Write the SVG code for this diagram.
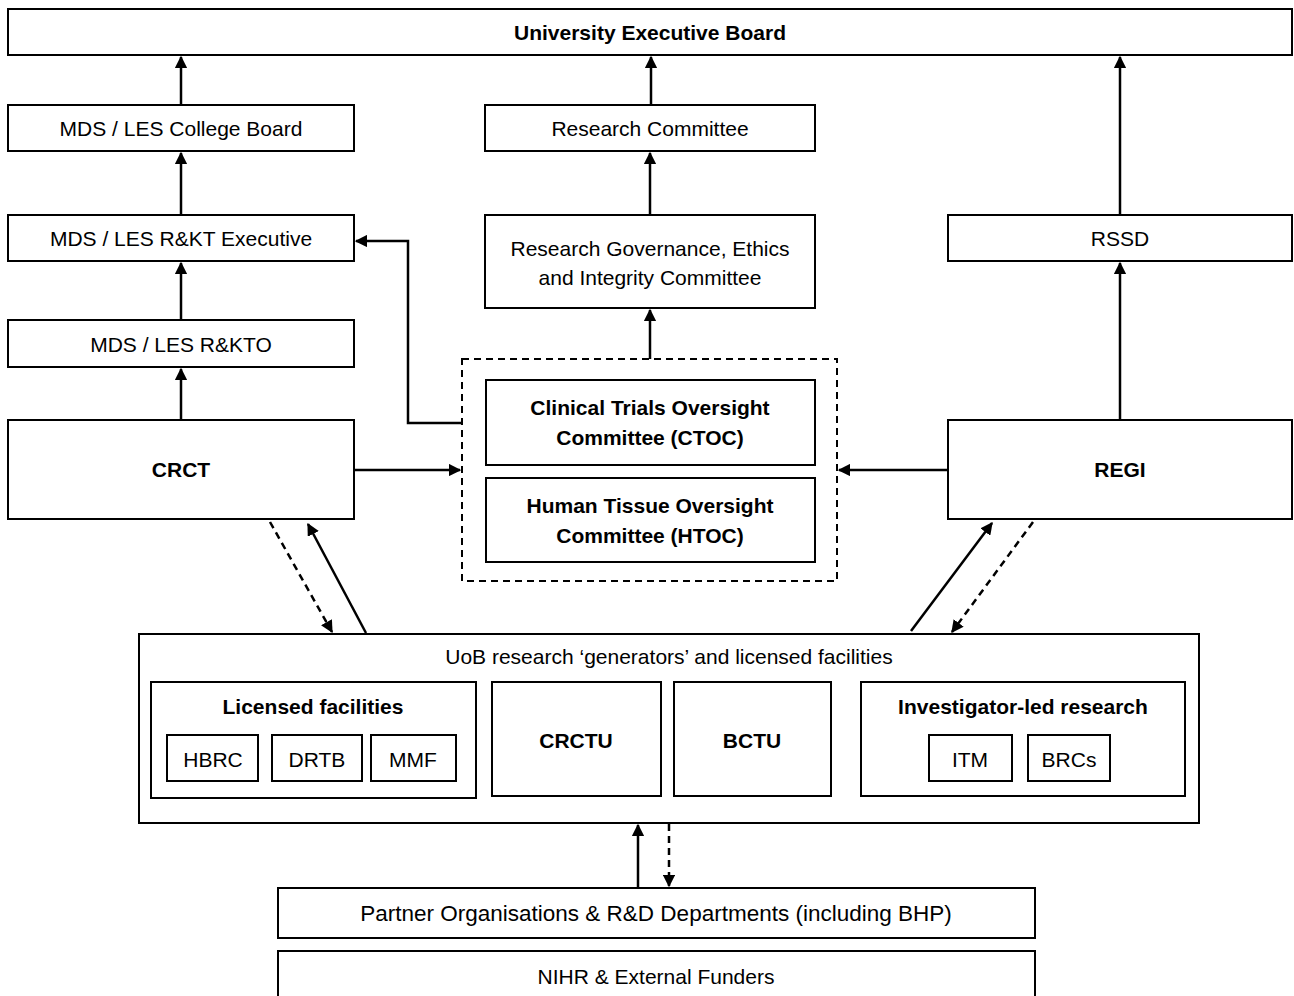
<svg xmlns="http://www.w3.org/2000/svg" width="1294" height="996" viewBox="0 0 1294 996">
<style>
.box{fill:#fff;stroke:#000;stroke-width:2}
.t{font-family:"Liberation Sans",Arial,sans-serif;font-size:21px;fill:#000;text-anchor:middle}
.b{font-weight:bold}
.c{fill:none;stroke:#000;stroke-width:2.5}
.d{stroke-dasharray:7 5}
</style>
<defs>
<marker id="ah" viewBox="0 0 10 10" refX="9" refY="5" markerWidth="5" markerHeight="5" markerUnits="strokeWidth" orient="auto">
<path d="M0,0 L10,5 L0,10 z" fill="#000"/>
</marker>
</defs>
<rect width="1294" height="996" fill="#fff"/>
<g id="ueb"><rect class="box" x="8" y="9" width="1284" height="46"/><text class="t b" x="650" y="40">University Executive Board</text></g>
<g id="collegeboard"><rect class="box" x="8" y="105" width="346" height="46"/><text class="t" x="181" y="136">MDS / LES College Board</text></g>
<g id="researchcommittee"><rect class="box" x="485" y="105" width="330" height="46"/><text class="t" x="650" y="136">Research Committee</text></g>
<g id="rktexec"><rect class="box" x="8" y="215" width="346" height="46"/><text class="t" x="181" y="246">MDS / LES R&amp;KT Executive</text></g>
<g id="rgeic"><rect class="box" x="485" y="215" width="330" height="93"/><text class="t" x="650" y="256">Research Governance, Ethics</text><text class="t" x="650" y="285">and Integrity Committee</text></g>
<g id="rssd"><rect class="box" x="948" y="215" width="344" height="46"/><text class="t" x="1120" y="246">RSSD</text></g>
<g id="rkto"><rect class="box" x="8" y="320" width="346" height="47"/><text class="t" x="181" y="352">MDS / LES R&amp;KTO</text></g>
<g id="crct"><rect class="box" x="8" y="420" width="346" height="99"/><text class="t b" x="181" y="477">CRCT</text></g>
<g id="regi"><rect class="box" x="948" y="420" width="344" height="99"/><text class="t b" x="1120" y="477">REGI</text></g>
<g id="oversight">
<rect x="462" y="359" width="375" height="222" fill="none" stroke="#000" stroke-width="2" stroke-dasharray="7 5"/>
<g id="ctoc"><rect class="box" x="486" y="380" width="329" height="85"/><text class="t b" x="650" y="415">Clinical Trials Oversight</text><text class="t b" x="650" y="445">Committee (CTOC)</text></g>
<g id="htoc"><rect class="box" x="486" y="478" width="329" height="84"/><text class="t b" x="650" y="513">Human Tissue Oversight</text><text class="t b" x="650" y="543">Committee (HTOC)</text></g>
</g>
<g id="uob">
<rect class="box" x="139" y="634" width="1060" height="189"/>
<text class="t" x="669" y="664">UoB research ‘generators’ and licensed facilities</text>
<g id="licensed"><rect class="box" x="151" y="682" width="325" height="116"/><text class="t b" x="313" y="714">Licensed facilities</text>
<g id="hbrc"><rect class="box" x="167" y="735" width="91" height="46"/><text class="t" x="213" y="767">HBRC</text></g>
<g id="drtb"><rect class="box" x="272" y="735" width="90" height="46"/><text class="t" x="317" y="767">DRTB</text></g>
<g id="mmf"><rect class="box" x="371" y="735" width="85" height="46"/><text class="t" x="413" y="767">MMF</text></g>
</g>
<g id="crctu"><rect class="box" x="492" y="682" width="169" height="114"/><text class="t b" x="576" y="748">CRCTU</text></g>
<g id="bctu"><rect class="box" x="674" y="682" width="157" height="114"/><text class="t b" x="752" y="748">BCTU</text></g>
<g id="investigator"><rect class="box" x="861" y="682" width="324" height="114"/><text class="t b" x="1023" y="714">Investigator-led research</text>
<g id="itm"><rect class="box" x="929" y="735" width="83" height="46"/><text class="t" x="970" y="767">ITM</text></g>
<g id="brcs"><rect class="box" x="1028" y="735" width="82" height="46"/><text class="t" x="1069" y="767">BRCs</text></g>
</g>
</g>
<g id="partner"><rect class="box" x="278" y="888" width="757" height="50"/><text class="t" x="656" y="921" style="font-size:22.5px">Partner Organisations &amp; R&amp;D Departments (including BHP)</text></g>
<g id="nihr"><rect class="box" x="278" y="951" width="757" height="60"/><text class="t" x="656" y="984">NIHR &amp; External Funders</text></g>
<g id="connectors">
<line class="c" x1="181" y1="105" x2="181" y2="57" marker-end="url(#ah)"/>
<line class="c" x1="181" y1="215" x2="181" y2="153" marker-end="url(#ah)"/>
<line class="c" x1="181" y1="320" x2="181" y2="263" marker-end="url(#ah)"/>
<line class="c" x1="181" y1="420" x2="181" y2="369" marker-end="url(#ah)"/>
<line class="c" x1="651" y1="105" x2="651" y2="57" marker-end="url(#ah)"/>
<line class="c" x1="650" y1="215" x2="650" y2="153" marker-end="url(#ah)"/>
<line class="c" x1="650" y1="359" x2="650" y2="310" marker-end="url(#ah)"/>
<line class="c" x1="1120" y1="215" x2="1120" y2="57" marker-end="url(#ah)"/>
<line class="c" x1="1120" y1="420" x2="1120" y2="263" marker-end="url(#ah)"/>
<polyline class="c" points="462,423 408,423 408,241 356,241" marker-end="url(#ah)"/>
<line class="c" x1="354" y1="470" x2="460" y2="470" marker-end="url(#ah)"/>
<line class="c" x1="948" y1="470" x2="839" y2="470" marker-end="url(#ah)"/>
<line class="c d" x1="270" y1="522" x2="332" y2="632" marker-end="url(#ah)"/>
<line class="c" x1="366" y1="633" x2="308" y2="524" marker-end="url(#ah)"/>
<line class="c" x1="911" y1="631" x2="992" y2="523" marker-end="url(#ah)"/>
<line class="c d" x1="1033" y1="522" x2="952" y2="632" marker-end="url(#ah)"/>
<line class="c" x1="638" y1="888" x2="638" y2="825" marker-end="url(#ah)"/>
<line class="c d" x1="669" y1="824" x2="669" y2="886" marker-end="url(#ah)"/>
</g>
</svg>
